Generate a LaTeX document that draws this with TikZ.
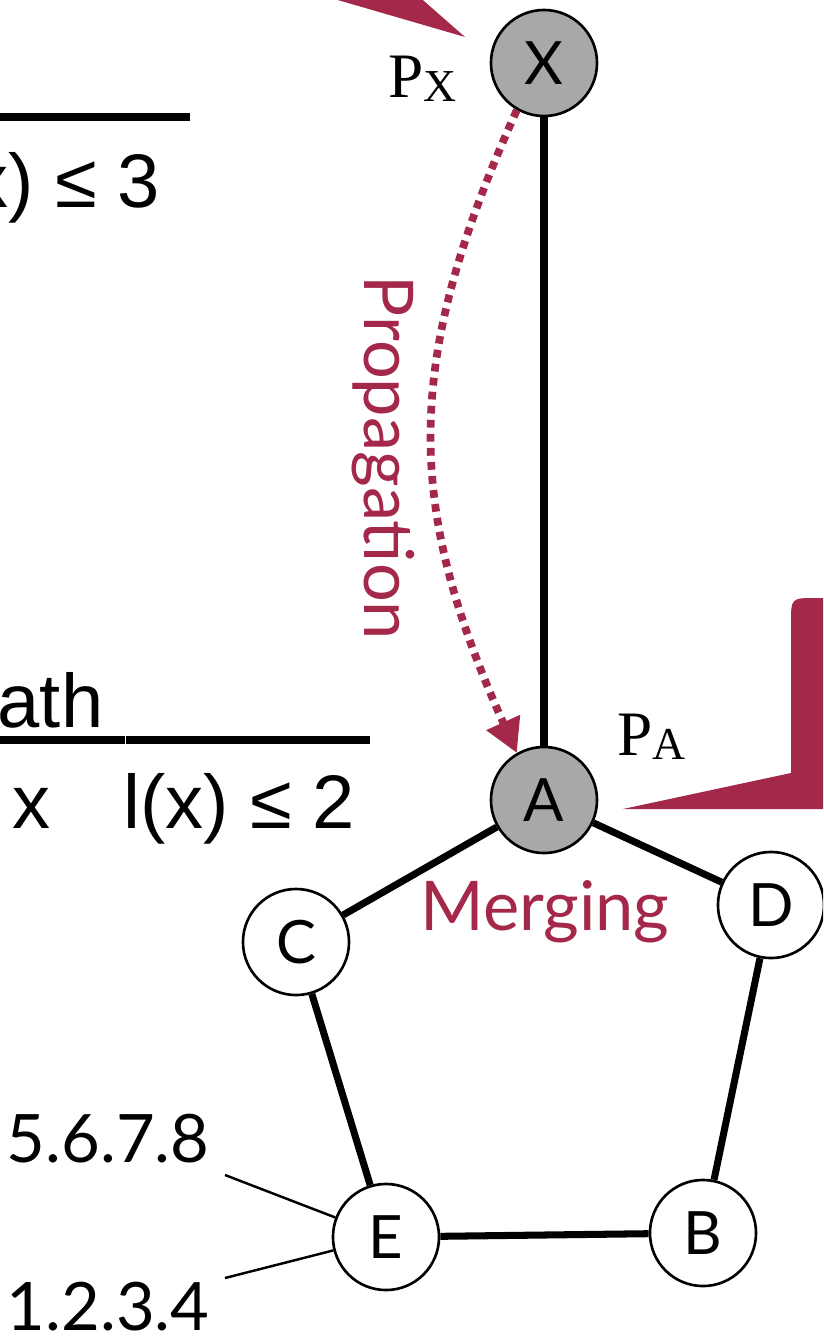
\documentclass[tikz,border=0pt]{standalone}
\usepackage{fontspec}
\setmainfont{Liberation Serif}
\newfontfamily\helv{Liberation Sans}
\newfontfamily\gill{Lato}
\usetikzlibrary{arrows.meta}
\definecolor{wine}{RGB}{164,40,74}
\definecolor{nodegray}{RGB}{166,169,168}

\begin{document}
\begin{tikzpicture}[x=0.01cm, y=-0.01cm,
    main/.style = {draw, circle, line width=0.75pt, minimum size=1.06cm, inner sep=0pt,
                   fill=white, font=\gill\fontsize{17}{17}\selectfont},
    shaded/.style = {main, fill=nodegray},
    link/.style = {line width=2pt},
    rulebar/.style = {line width=2.3pt},
    lab/.style = {inner sep=0pt, font=\helv\fontsize{21.6}{22}\selectfont},
    addr/.style = {inner sep=0pt, font=\gill\fontsize{19}{19}\selectfont},
    prob/.style = {inner sep=0pt, font=\fontsize{18}{18}\selectfont},
    redlab/.style = {inner sep=0pt, text=wine, font=\gill\fontsize{19.5}{20}\selectfont}]
    \useasboundingbox (0,0) rectangle (823,1339);
    \clip (0,0) rectangle (823,1339);

    % red pointers
    \fill[wine] (269,-20) -- (400,-20) -- (465,37) -- cycle;
    \fill[wine] (623,809) -- (791,773) -- (791,623) .. controls (791,598) .. (816,598)
        -- (900,598) -- (900,809) -- cycle;

    % left table fragments
    \draw[rulebar] (0,117) -- (190,117);
    \node[lab, anchor=base east] (l3) at (161,207) {l(x) ≤ 3};
    \node[lab, anchor=base west] (ath) at (-3,727) {ath};
    \draw[rulebar] (0,740) -- (125,740);
    \draw[rulebar] (126,740) -- (370,740);
    \node[lab, anchor=base west] (xcol) at (12,828) {x};
    \node[lab, anchor=base east] (l2) at (356,828) {l(x) ≤ 2};

    % graph
    \node[shaded] (X) at (544,63) {X};
    \node[shaded] (A) at (544,800) {A};
    \node[main] (C) at (296,942) {C};
    \node[main] (D) at (771,905) {D};
    \node[main] (E) at (386,1237) {E};
    \node[main] (B) at (703,1233) {B};

    \draw[link] (X) -- (A);
    \draw[link] (A) -- (C);
    \draw[link] (A) -- (D);
    \draw[link] (C) -- (E);
    \draw[link] (D) -- (B);
    \draw[link] (E) -- (B);

    \node[prob, anchor=base west] (PX) at (388,97) {P\raisebox{-1.4pt}{\fontsize{13}{13}\selectfont X}};
    \node[prob, anchor=base west] (PA) at (617,755) {P\raisebox{-1.4pt}{\fontsize{13}{13}\selectfont A}};

    \draw[wine, line width=2.2pt, dash pattern=on 2.2pt off 1.8pt,
          -{Triangle[length=9.5pt, width=10pt]}]
        (X.240) .. controls (404,361) and (404,502) .. (A.120);
    \node[redlab, rotate=-90] (prop) at (383,458) {Propagation};
    \node[redlab, anchor=base] (merge) at (545,930) {Merging};

    % addresses of E
    \node[addr, anchor=base east] (ad1) at (210,1162) {5.6.7.8};
    \node[addr, anchor=base east] (ad2) at (210,1330) {1.2.3.4};
    \coordinate (t1) at (225,1175);
    \coordinate (t2) at (225,1278);
    \draw[line width=0.7pt] (t1) -- (E);
    \draw[line width=0.7pt] (t2) -- (E);
\end{tikzpicture}
\end{document}
